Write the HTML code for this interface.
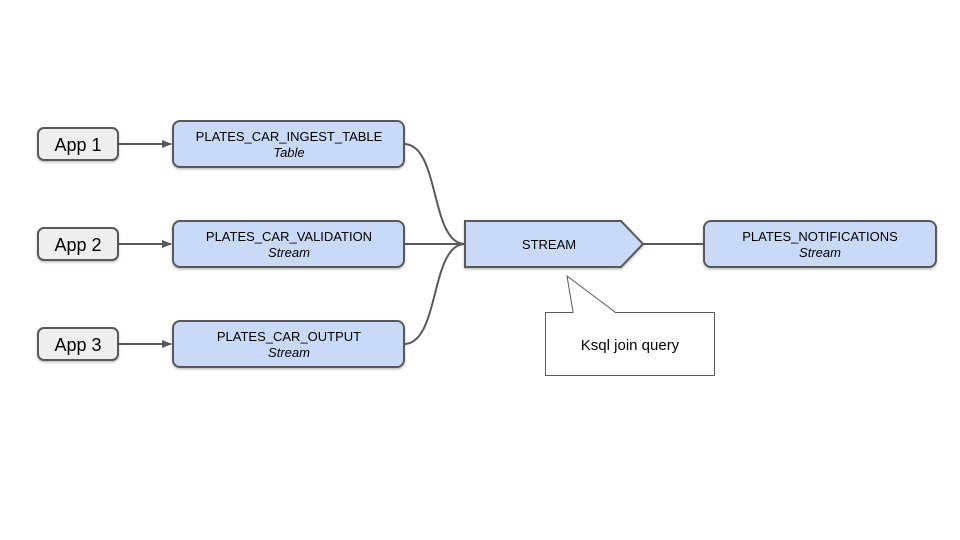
<!DOCTYPE html>
<html><head><meta charset="utf-8"><style>
html,body{margin:0;padding:0;background:#fff;}
svg{display:block;}
text{font-family:"Liberation Sans",Arial,sans-serif;fill:#000;}
</style></head><body>
<svg width="960" height="540" viewBox="0 0 960 540" xmlns="http://www.w3.org/2000/svg">
<defs>
<marker id="ar" markerWidth="10" markerHeight="10" refX="9" refY="5" orient="auto" markerUnits="userSpaceOnUse">
<path d="M0,1 L10,5 L0,9 Z" fill="#595959"/>
</marker>
<filter id="sh" x="-10%" y="-10%" width="120%" height="130%"><feDropShadow dx="0" dy="1.5" stdDeviation="1" flood-color="#000" flood-opacity="0.25"/></filter>
</defs>
<g stroke="#595959" stroke-width="2" fill="none">
<path d="M118,144 H171" marker-end="url(#ar)"/>
<path d="M118,244 H171" marker-end="url(#ar)"/>
<path d="M118,344 H171" marker-end="url(#ar)"/>
<path d="M404,144 C440,144 430,244 465,244"/>
<path d="M404,244 H465"/>
<path d="M404,344 C440,344 430,244 465,244"/>
<path d="M643,244 H704"/>
</g>
<g stroke="#595959" stroke-width="2" filter="url(#sh)">
<rect x="38" y="128" width="80" height="32" rx="6" fill="#efefef"/>
<rect x="38" y="228" width="80" height="32" rx="6" fill="#efefef"/>
<rect x="38" y="328" width="80" height="32" rx="6" fill="#efefef"/>
<rect x="173" y="121" width="231" height="46" rx="7" fill="#c9daf8"/>
<rect x="173" y="221" width="231" height="46" rx="7" fill="#c9daf8"/>
<rect x="173" y="321" width="231" height="46" rx="7" fill="#c9daf8"/>
<path d="M465,221 H621 L643,244 L621,267 H465 Z" fill="#c9daf8"/>
<rect x="704" y="221" width="232" height="46" rx="7" fill="#c9daf8"/>
</g>
<path d="M573,312 L567,276 L615,312" fill="#fff" stroke="#595959" stroke-width="1"/>
<rect x="545.5" y="312.5" width="169" height="63" fill="#fff" stroke="#595959" stroke-width="1"/>
<path d="M573.5,313 H614.5" stroke="#fff" stroke-width="2"/>
<g font-size="18" text-anchor="middle">
<text x="78" y="151">App 1</text>
<text x="78" y="251">App 2</text>
<text x="78" y="351">App 3</text>
</g>
<g font-size="13" text-anchor="middle">
<text x="289" y="141">PLATES_CAR_INGEST_TABLE</text>
<text x="289" y="157" font-style="italic">Table</text>
<text x="289" y="241">PLATES_CAR_VALIDATION</text>
<text x="289" y="257" font-style="italic">Stream</text>
<text x="289" y="341">PLATES_CAR_OUTPUT</text>
<text x="289" y="357" font-style="italic">Stream</text>
<text x="549" y="249">STREAM</text>
<text x="820" y="241">PLATES_NOTIFICATIONS</text>
<text x="820" y="257" font-style="italic">Stream</text>
</g>
<text x="630" y="350" font-size="15" text-anchor="middle">Ksql join query</text>
</svg>
</body></html>
